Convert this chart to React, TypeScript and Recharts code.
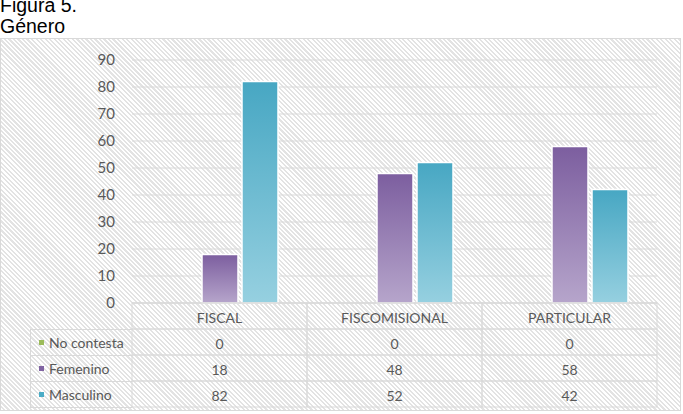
import { BarChart, Bar, XAxis, YAxis, CartesianGrid, Legend } from 'recharts';

const categories = ['FISCAL', 'FISCOMISIONAL', 'PARTICULAR'];
const noContesta = [0, 0, 0];
const femenino = [18, 48, 58];
const masculino = [82, 52, 42];
const yTicks = [0, 10, 20, 30, 40, 50, 60, 70, 80, 90];

const series = [
  { key: 'noContesta', name: 'No contesta', values: noContesta, color: '#9bbb59', top: '#8fb04c', bottom: '#c5d99f' },
  { key: 'femenino', name: 'Femenino', values: femenino, color: '#8064a2', top: '#7c5e9f', bottom: '#b6a5cb' },
  { key: 'masculino', name: 'Masculino', values: masculino, color: '#4bacc6', top: '#47a7c3', bottom: '#96d0e0' },
];

const data = categories.map((name, i) => ({
  name,
  noContesta: noContesta[i],
  femenino: femenino[i],
  masculino: masculino[i],
}));

const FONT = 'Lato, "Open Sans", sans-serif';
const TEXT = '#595959';
const LINE = '#d9d9d9';
const COL_W = 175;
const ROW_H = 26;

// one column of the data table under each category: header + a value per series
function TableColumn(props: any) {
  const { x, y, payload } = props;
  const i = payload.index;
  return (
    <g>
      <rect x={x - COL_W / 2} y={y} width={COL_W} height={ROW_H} fill="none" stroke={LINE} />
      <text x={x} y={y + ROW_H / 2 + 1} textAnchor="middle" dominantBaseline="central"
        fontFamily={FONT} fontSize={14} fill={TEXT}>{payload.value}</text>
      {series.map((s, r) => (
        <g key={s.key}>
          <rect x={x - COL_W / 2} y={y + ROW_H * (r + 1)} width={COL_W} height={ROW_H} fill="none" stroke={LINE} />
          <text x={x} y={y + ROW_H * (r + 1) + ROW_H / 2 + 1} textAnchor="middle" dominantBaseline="central"
            fontFamily={FONT} fontSize={14} fill={TEXT}>{s.values[i]}</text>
        </g>
      ))}
    </g>
  );
}

// row headers of the table, doubling as the legend
function RowHeads() {
  return (
    <div style={{ width: 102, borderBottom: `1px solid ${LINE}` }}>
      {series.map((s) => (
        <div key={s.key} style={{
          height: ROW_H, boxSizing: 'border-box', borderTop: `1px solid ${LINE}`, borderLeft: `1px solid ${LINE}`,
          display: 'flex', alignItems: 'center', paddingLeft: 8, fontFamily: FONT, fontSize: 14, color: TEXT,
          whiteSpace: 'nowrap',
        }}>
          <span style={{ width: 5, height: 5, background: s.color, marginRight: 5, display: 'inline-block' }} />
          {s.name}
        </div>
      ))}
    </div>
  );
}

export default function App() {
  return (
    <div style={{ position: 'absolute', left: 0, top: 0, width: 683, height: 414, background: '#fff' }}>
      <div style={{ position: 'absolute', left: 0, top: -5, fontFamily: '"Liberation Sans", Arial, sans-serif', fontSize: 19.5, lineHeight: '21px', color: '#000' }}>
        Figura 5.<br />Género
      </div>
      <div style={{
        position: 'absolute', left: 0, top: 38, width: 681, height: 373, boxSizing: 'border-box',
        border: `1px solid ${LINE}`,
        background: 'repeating-linear-gradient(45deg, #ffffff 0px, #ffffff 1.6px, #e3e3e3 1.6px, #e3e3e3 3.2px)',
      }}>
        <div style={{ position: 'absolute', left: -1, top: -1 }}>
          <BarChart width={681} height={373} data={data} margin={{ top: 22, right: 24, left: 0, bottom: 0 }}
            barSize={36} barGap={4}>
            <defs>
              {series.map((s) => (
                <linearGradient key={s.key} id={`grad-${s.key}`} x1="0" y1="0" x2="0" y2="1">
                  <stop offset="0%" stopColor={s.top} />
                  <stop offset="100%" stopColor={s.bottom} />
                </linearGradient>
              ))}
            </defs>
            <CartesianGrid vertical={false} stroke={LINE} />
            <XAxis dataKey="name" height={108} tickSize={0} tickMargin={0} axisLine={{ stroke: LINE }}
              tickLine={false} tick={<TableColumn />} interval={0} />
            <YAxis width={132} domain={[0, 90]} ticks={yTicks} axisLine={false} tickLine={false}
              tickSize={0} tickMargin={17} tick={{ fontFamily: FONT, fontSize: 15, fill: TEXT }} />
            <Legend layout="horizontal" verticalAlign="middle" align="center" content={<RowHeads />}
              wrapperStyle={{ position: 'absolute', left: 30, top: 291, width: 102 }} />
            {series.map((s) => (
              <Bar key={s.key} dataKey={s.key} name={s.name} fill={`url(#grad-${s.key})`}
                stroke="#ffffff" strokeWidth={1.5} isAnimationActive={false} />
            ))}
          </BarChart>
        </div>
      </div>
    </div>
  );
}
